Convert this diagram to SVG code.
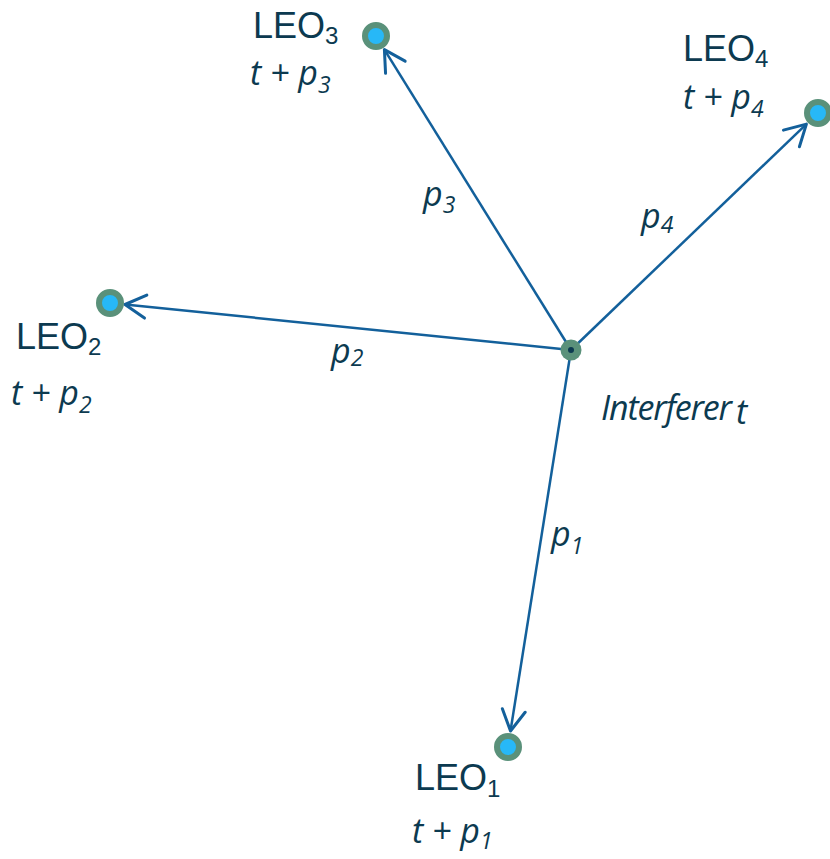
<svg xmlns="http://www.w3.org/2000/svg" width="830" height="859" viewBox="0 0 830 859">
<defs>
<marker id="arr" markerUnits="userSpaceOnUse" markerWidth="30" markerHeight="30" viewBox="-22 -12 26 24" refX="0" refY="0" orient="auto">
<path d="M-18,-10 L0,0 L-18,10" fill="none" stroke="#13609b" stroke-width="2.6" stroke-linecap="round" stroke-linejoin="round"/>
</marker>
</defs>
<style>
.edge{stroke:#13609b;stroke-width:2.5;fill:none}
.ring{fill:#27b8f7;stroke:#5a917a;stroke-width:6}
.leo{font-family:"Liberation Sans",Arial,sans-serif;font-size:36px;fill:#0c3a50}
.sub{font-size:24px}
.it{font-family:"Open Sans","Noto Sans",sans-serif;font-style:italic;font-size:34px;fill:#0c3a50}
.isub{font-size:23px}
</style>
<g id="connectors">
<line class="edge" x1="571" y1="350" x2="384.4" y2="49.6" marker-end="url(#arr)"/>
<line class="edge" x1="571" y1="350" x2="806.4" y2="124.1" marker-end="url(#arr)"/>
<line class="edge" x1="571" y1="350" x2="125" y2="304.5" marker-end="url(#arr)"/>
<line class="edge" x1="571" y1="350" x2="510.5" y2="731" marker-end="url(#arr)"/>
</g>
<g id="interferer">
<circle cx="571" cy="350" r="10.5" fill="#5a917a"/>
<circle cx="571" cy="350" r="3" fill="#0c3a50"/>
<text class="it" x="601" y="420" font-size="30" textLength="131">Interferer</text>
<text class="it" x="736" y="424" font-size="38">t</text>
</g>
<g id="leo3">
<circle class="ring" cx="376" cy="36" r="11"/>
<text class="leo" x="253" y="38">LEO<tspan class="sub" dy="6">3</tspan></text>
<text class="it" x="250" y="85">t + p<tspan class="isub" dy="8">3</tspan></text>
</g>
<g id="leo4">
<circle class="ring" cx="818" cy="113" r="11"/>
<text class="leo" x="683" y="61">LEO<tspan class="sub" dy="6">4</tspan></text>
<text class="it" x="683" y="109">t + p<tspan class="isub" dy="8">4</tspan></text>
</g>
<g id="leo2">
<circle class="ring" cx="110" cy="303" r="11"/>
<text class="leo" x="16" y="349">LEO<tspan class="sub" dy="6">2</tspan></text>
<text class="it" x="11" y="405">t + p<tspan class="isub" dy="8">2</tspan></text>
</g>
<g id="leo1">
<circle class="ring" cx="508" cy="747" r="11"/>
<text class="leo" x="415" y="790">LEO<tspan class="sub" dy="7">1</tspan></text>
<text class="it" x="412" y="843">t + p<tspan class="isub" dy="6">1</tspan></text>
</g>
<g id="labels">
<text class="it" x="423" y="206">p<tspan class="isub" dy="7">3</tspan></text>
<text class="it" x="641" y="228">p<tspan class="isub" dy="5">4</tspan></text>
<text class="it" x="331" y="363">p<tspan class="isub" dy="3">2</tspan></text>
<text class="it" x="551" y="546">p<tspan class="isub" dy="8">1</tspan></text>
</g>
</svg>
